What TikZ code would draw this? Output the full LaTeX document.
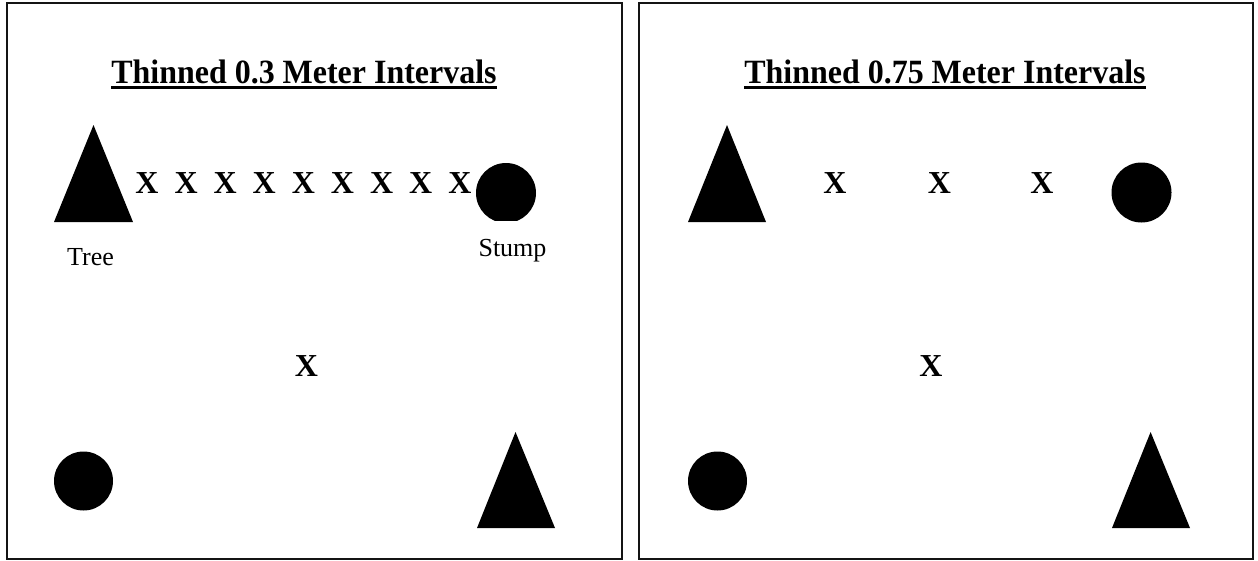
\documentclass[tikz,border=0pt]{standalone}
\usepackage{fontspec}
\setmainfont{Liberation Serif}
\newfontfamily\ttlfont[FakeStretch=0.94]{Liberation Serif}
\usepackage{tikz}
\usetikzlibrary{positioning}
\definecolor{ink}{HTML}{000000}
\definecolor{rim}{HTML}{141414}
\tikzset{
  panel/.style={draw=rim,line width=2pt,fill=white},
  ttl/.style={font=\ttlfont\bfseries\fontsize{34}{38}\selectfont,text=ink,inner sep=0pt,anchor=base},
  ul/.style={line width=3pt,color=ink},
  xmk/.style={font=\bfseries\fontsize{32}{36}\selectfont,text=ink,inner sep=0pt},
  lbl/.style={font=\fontsize{26}{30}\selectfont,text=ink,inner sep=0pt,anchor=base},
  treeshp/.style={fill=ink},
  stumpshp/.style={fill=ink}
}

\begin{document}
\begin{tikzpicture}[x=1pt,y=-1pt]
  \useasboundingbox (0,0) rectangle (1258,560);
  \draw[panel] (7,3) rectangle (622,559);
  \draw[panel] (639,3) rectangle (1253,559);
  % 0.3 m panel
  \node[ttl] (ttlA) at (304,83.3) {Thinned 0.3 Meter Intervals};
  \draw[ul] ([yshift=-4.5pt]ttlA.base west) -- ([yshift=-4.5pt]ttlA.base east);
  \fill[treeshp] (93.5,125) -- (133,222) -- (54,222) -- cycle;
  \begin{scope}
    \clip (470,150) rectangle (545,220);
    \fill[stumpshp] (506,193) circle[radius=30];
  \end{scope}
  \foreach \i in {0,...,8}
    \node[xmk] (xa\i) at ({147+39.1*\i},183) {X};
  \node[lbl] (lblTree) at (90.5,265) {Tree};
  \node[lbl] (lblStump) at (512.5,256) {Stump};
  \node[xmk] (xaMid) at (306.5,366) {X};
  \fill[stumpshp] (83.5,481) circle[radius=29.5];
  \fill[treeshp] (515.5,432) -- (555,528) -- (477,528) -- cycle;
  % 0.75 m panel
  \node[ttl] (ttlB) at (945,83.3) {Thinned 0.75 Meter Intervals};
  \draw[ul] ([yshift=-4.5pt]ttlB.base west) -- ([yshift=-4.5pt]ttlB.base east);
  \fill[treeshp] (727,125) -- (766,222) -- (688,222) -- cycle;
  \fill[stumpshp] (1141.5,192.5) circle[radius=30];
  \foreach \xx [count=\i] in {835,939.5,1042}
    \node[xmk] (xb\i) at (\xx,183) {X};
  \node[xmk] (xbMid) at (931,366) {X};
  \fill[stumpshp] (717.5,481) circle[radius=29.5];
  \fill[treeshp] (1150.6,432) -- (1190,528) -- (1112,528) -- cycle;
\end{tikzpicture}
\end{document}
